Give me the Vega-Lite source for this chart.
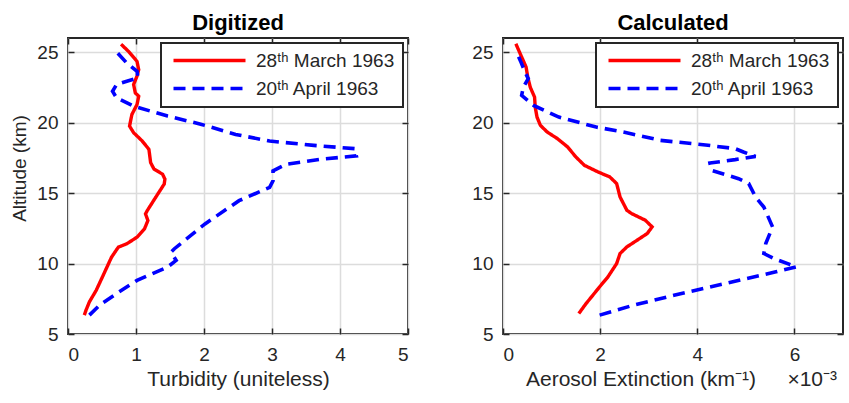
{
  "$schema": "https://vega.github.io/schema/vega-lite/v6.json",
  "background": "white",
  "padding": {"left": 9, "top": 10, "right": 0, "bottom": 0},
  "datasets": {
    "digitized": [
      {"date": "28ᵗʰ March 1963", "value": 0.78, "alt": 25.56},
      {"date": "28ᵗʰ March 1963", "value": 0.89, "alt": 25.05},
      {"date": "28ᵗʰ March 1963", "value": 1.015, "alt": 24.34},
      {"date": "28ᵗʰ March 1963", "value": 1.04, "alt": 23.75},
      {"date": "28ᵗʰ March 1963", "value": 1.015, "alt": 23.3},
      {"date": "28ᵗʰ March 1963", "value": 0.965, "alt": 22.7},
      {"date": "28ᵗʰ March 1963", "value": 0.99, "alt": 22.1},
      {"date": "28ᵗʰ March 1963", "value": 1.04, "alt": 21.87},
      {"date": "28ᵗʰ March 1963", "value": 1.015, "alt": 21.28},
      {"date": "28ᵗʰ March 1963", "value": 0.94, "alt": 20.58},
      {"date": "28ᵗʰ March 1963", "value": 0.905, "alt": 19.75},
      {"date": "28ᵗʰ March 1963", "value": 0.965, "alt": 19.28},
      {"date": "28ᵗʰ March 1963", "value": 1.09, "alt": 18.7},
      {"date": "28ᵗʰ March 1963", "value": 1.19, "alt": 18.1},
      {"date": "28ᵗʰ March 1963", "value": 1.215, "alt": 17.16},
      {"date": "28ᵗʰ March 1963", "value": 1.265, "alt": 16.7},
      {"date": "28ᵗʰ March 1963", "value": 1.39, "alt": 16.34},
      {"date": "28ᵗʰ March 1963", "value": 1.425, "alt": 15.99},
      {"date": "28ᵗʰ March 1963", "value": 1.415, "alt": 15.64},
      {"date": "28ᵗʰ March 1963", "value": 1.29, "alt": 14.7},
      {"date": "28ᵗʰ March 1963", "value": 1.165, "alt": 13.75},
      {"date": "28ᵗʰ March 1963", "value": 1.14, "alt": 13.52},
      {"date": "28ᵗʰ March 1963", "value": 1.175, "alt": 13.05},
      {"date": "28ᵗʰ March 1963", "value": 1.125, "alt": 12.46},
      {"date": "28ᵗʰ March 1963", "value": 1.015, "alt": 11.87},
      {"date": "28ᵗʰ March 1963", "value": 0.865, "alt": 11.4},
      {"date": "28ᵗʰ March 1963", "value": 0.74, "alt": 11.16},
      {"date": "28ᵗʰ March 1963", "value": 0.64, "alt": 10.45},
      {"date": "28ᵗʰ March 1963", "value": 0.54, "alt": 9.4},
      {"date": "28ᵗʰ March 1963", "value": 0.415, "alt": 8.1},
      {"date": "28ᵗʰ March 1963", "value": 0.315, "alt": 7.28},
      {"date": "28ᵗʰ March 1963", "value": 0.265, "alt": 6.69},
      {"date": "28ᵗʰ March 1963", "value": 0.24, "alt": 6.34},
      {"date": "20ᵗʰ April 1963", "value": 0.73, "alt": 24.93},
      {"date": "20ᵗʰ April 1963", "value": 0.865, "alt": 24.22},
      {"date": "20ᵗʰ April 1963", "value": 1.015, "alt": 23.64},
      {"date": "20ᵗʰ April 1963", "value": 1.03, "alt": 23.16},
      {"date": "20ᵗʰ April 1963", "value": 0.865, "alt": 22.93},
      {"date": "20ᵗʰ April 1963", "value": 0.715, "alt": 22.7},
      {"date": "20ᵗʰ April 1963", "value": 0.655, "alt": 22.22},
      {"date": "20ᵗʰ April 1963", "value": 0.715, "alt": 21.75},
      {"date": "20ᵗʰ April 1963", "value": 0.965, "alt": 21.16},
      {"date": "20ᵗʰ April 1963", "value": 1.465, "alt": 20.46},
      {"date": "20ᵗʰ April 1963", "value": 1.965, "alt": 19.87},
      {"date": "20ᵗʰ April 1963", "value": 2.465, "alt": 19.16},
      {"date": "20ᵗʰ April 1963", "value": 2.965, "alt": 18.69},
      {"date": "20ᵗʰ April 1963", "value": 3.615, "alt": 18.38},
      {"date": "20ᵗʰ April 1963", "value": 4.215, "alt": 18.15},
      {"date": "20ᵗʰ April 1963", "value": 4.24, "alt": 17.64},
      {"date": "20ᵗʰ April 1963", "value": 3.715, "alt": 17.4},
      {"date": "20ᵗʰ April 1963", "value": 3.215, "alt": 17.05},
      {"date": "20ᵗʰ April 1963", "value": 3.015, "alt": 16.58},
      {"date": "20ᵗʰ April 1963", "value": 3.015, "alt": 15.87},
      {"date": "20ᵗʰ April 1963", "value": 2.965, "alt": 15.4},
      {"date": "20ᵗʰ April 1963", "value": 2.515, "alt": 14.46},
      {"date": "20ᵗʰ April 1963", "value": 2.015, "alt": 12.81},
      {"date": "20ᵗʰ April 1963", "value": 1.565, "alt": 11.05},
      {"date": "20ᵗʰ April 1963", "value": 1.515, "alt": 10.81},
      {"date": "20ᵗʰ April 1963", "value": 1.59, "alt": 10.22},
      {"date": "20ᵗʰ April 1963", "value": 1.465, "alt": 9.75},
      {"date": "20ᵗʰ April 1963", "value": 1.015, "alt": 8.8},
      {"date": "20ᵗʰ April 1963", "value": 0.715, "alt": 7.87},
      {"date": "20ᵗʰ April 1963", "value": 0.465, "alt": 7.05},
      {"date": "20ᵗʰ April 1963", "value": 0.315, "alt": 6.34}
    ],
    "calculated": [
      {"date": "28ᵗʰ March 1963", "value": 0.265, "alt": 25.59},
      {"date": "28ᵗʰ March 1963", "value": 0.384, "alt": 24.65},
      {"date": "28ᵗʰ March 1963", "value": 0.475, "alt": 23.94},
      {"date": "28ᵗʰ March 1963", "value": 0.51, "alt": 23.23},
      {"date": "28ᵗʰ March 1963", "value": 0.56, "alt": 22.52},
      {"date": "28ᵗʰ March 1963", "value": 0.65, "alt": 21.81},
      {"date": "28ᵗʰ March 1963", "value": 0.663, "alt": 21.1},
      {"date": "28ᵗʰ March 1963", "value": 0.7, "alt": 20.39},
      {"date": "28ᵗʰ March 1963", "value": 0.77, "alt": 19.8},
      {"date": "28ᵗʰ March 1963", "value": 0.91, "alt": 19.33},
      {"date": "28ᵗʰ March 1963", "value": 1.12, "alt": 18.86},
      {"date": "28ᵗʰ March 1963", "value": 1.33, "alt": 18.27},
      {"date": "28ᵗʰ March 1963", "value": 1.5, "alt": 17.56},
      {"date": "28ᵗʰ March 1963", "value": 1.675, "alt": 16.97},
      {"date": "28ᵗʰ March 1963", "value": 1.955, "alt": 16.5},
      {"date": "28ᵗʰ March 1963", "value": 2.2, "alt": 16.14},
      {"date": "28ᵗʰ March 1963", "value": 2.34, "alt": 15.67},
      {"date": "28ᵗʰ March 1963", "value": 2.41, "alt": 14.72},
      {"date": "28ᵗʰ March 1963", "value": 2.55, "alt": 13.78},
      {"date": "28ᵗʰ March 1963", "value": 2.65, "alt": 13.54},
      {"date": "28ᵗʰ March 1963", "value": 2.93, "alt": 13.07},
      {"date": "28ᵗʰ March 1963", "value": 3.07, "alt": 12.6},
      {"date": "28ᵗʰ March 1963", "value": 2.97, "alt": 12.13},
      {"date": "28ᵗʰ March 1963", "value": 2.76, "alt": 11.65},
      {"date": "28ᵗʰ March 1963", "value": 2.55, "alt": 11.18},
      {"date": "28ᵗʰ March 1963", "value": 2.41, "alt": 10.71},
      {"date": "28ᵗʰ March 1963", "value": 2.34, "alt": 10.0},
      {"date": "28ᵗʰ March 1963", "value": 2.16, "alt": 9.05},
      {"date": "28ᵗʰ March 1963", "value": 1.99, "alt": 8.35},
      {"date": "28ᵗʰ March 1963", "value": 1.85, "alt": 7.75},
      {"date": "28ᵗʰ March 1963", "value": 1.71, "alt": 7.16},
      {"date": "28ᵗʰ March 1963", "value": 1.56, "alt": 6.45},
      {"date": "20ᵗʰ April 1963", "value": 0.28, "alt": 25.0},
      {"date": "20ᵗʰ April 1963", "value": 0.37, "alt": 24.29},
      {"date": "20ᵗʰ April 1963", "value": 0.455, "alt": 23.58},
      {"date": "20ᵗʰ April 1963", "value": 0.52, "alt": 23.11},
      {"date": "20ᵗʰ April 1963", "value": 0.42, "alt": 22.52},
      {"date": "20ᵗʰ April 1963", "value": 0.384, "alt": 21.93},
      {"date": "20ᵗʰ April 1963", "value": 0.63, "alt": 21.22},
      {"date": "20ᵗʰ April 1963", "value": 1.15, "alt": 20.39},
      {"date": "20ᵗʰ April 1963", "value": 1.92, "alt": 19.68},
      {"date": "20ᵗʰ April 1963", "value": 2.48, "alt": 19.33},
      {"date": "20ᵗʰ April 1963", "value": 3.24, "alt": 18.74},
      {"date": "20ᵗʰ April 1963", "value": 4.22, "alt": 18.39},
      {"date": "20ᵗʰ April 1963", "value": 4.78, "alt": 18.15},
      {"date": "20ᵗʰ April 1963", "value": 4.95, "alt": 17.91},
      {"date": "20ᵗʰ April 1963", "value": 5.2, "alt": 17.6},
      {"date": "20ᵗʰ April 1963", "value": 4.78, "alt": 17.37},
      {"date": "20ᵗʰ April 1963", "value": 4.26, "alt": 17.13},
      {"date": "20ᵗʰ April 1963", "value": 4.29, "alt": 16.61},
      {"date": "20ᵗʰ April 1963", "value": 4.85, "alt": 16.02},
      {"date": "20ᵗʰ April 1963", "value": 5.06, "alt": 15.67},
      {"date": "20ᵗʰ April 1963", "value": 5.2, "alt": 14.72},
      {"date": "20ᵗʰ April 1963", "value": 5.37, "alt": 14.01},
      {"date": "20ᵗʰ April 1963", "value": 5.55, "alt": 12.6},
      {"date": "20ᵗʰ April 1963", "value": 5.41, "alt": 11.42},
      {"date": "20ᵗʰ April 1963", "value": 5.37, "alt": 10.71},
      {"date": "20ᵗʰ April 1963", "value": 5.58, "alt": 10.35},
      {"date": "20ᵗʰ April 1963", "value": 6.04, "alt": 9.76},
      {"date": "20ᵗʰ April 1963", "value": 5.62, "alt": 9.41},
      {"date": "20ᵗʰ April 1963", "value": 4.57, "alt": 8.58},
      {"date": "20ᵗʰ April 1963", "value": 3.52, "alt": 7.75},
      {"date": "20ᵗʰ April 1963", "value": 2.69, "alt": 7.05},
      {"date": "20ᵗʰ April 1963", "value": 1.99, "alt": 6.34}
    ]
  },
  "spacing": 60,
  "hconcat": [
    {
      "width": 340,
      "height": 296,
      "title": "Digitized",
      "data": {"name": "digitized"},
      "layer": [
        {
          "transform": [{"filter": {"field": "date", "equal": "28ᵗʰ March 1963"}}],
          "mark": {"type": "line", "strokeWidth": 3.4},
          "encoding": {
            "x": {"field": "value", "type": "quantitative", "scale": {"domain": [0, 5], "nice": false},
                  "axis": {"values": [0, 1, 2, 3, 4, 5], "title": "Turbidity (uniteless)", "orient": "bottom"}},
            "y": {"field": "alt", "type": "quantitative", "scale": {"domain": [5, 26], "nice": false, "zero": false},
                  "axis": {"values": [5, 10, 15, 20, 25], "title": "Altitude (km)", "orient": "left", "titleY": 130, "titleX": -39}},
            "color": {"field": "date", "type": "nominal",
                      "scale": {"domain": ["28ᵗʰ March 1963", "20ᵗʰ April 1963"], "range": ["#ff0000", "#0000ff"]},
                      "legend": {"title": null, "orient": "top-right"}},
            "strokeDash": {"field": "date", "type": "nominal",
                      "scale": {"domain": ["28ᵗʰ March 1963", "20ᵗʰ April 1963"], "range": [[1, 0], [12, 7]]},
                      "legend": {"title": null, "orient": "top-right"}},
            "order": {"field": "alt", "type": "quantitative"}
          }
        },
        {
          "transform": [{"filter": {"field": "date", "equal": "20ᵗʰ April 1963"}}],
          "mark": {"type": "line", "strokeWidth": 3.6},
          "encoding": {
            "x": {"field": "value", "type": "quantitative", "scale": {"domain": [0, 5], "nice": false},
                  "axis": {"values": [0, 1, 2, 3, 4, 5], "title": null, "orient": "top", "labels": false, "grid": false}},
            "y": {"field": "alt", "type": "quantitative", "scale": {"domain": [5, 26], "nice": false, "zero": false},
                  "axis": {"values": [5, 10, 15, 20, 25], "title": null, "orient": "right", "labels": false, "grid": false}},
            "color": {"field": "date", "type": "nominal",
                      "scale": {"domain": ["28ᵗʰ March 1963", "20ᵗʰ April 1963"], "range": ["#ff0000", "#0000ff"]},
                      "legend": {"title": null, "orient": "top-right"}},
            "strokeDash": {"field": "date", "type": "nominal",
                      "scale": {"domain": ["28ᵗʰ March 1963", "20ᵗʰ April 1963"], "range": [[1, 0], [12, 7]]},
                      "legend": {"title": null, "orient": "top-right"}},
            "order": {"field": "alt", "type": "quantitative"}
          }
        }
      ],
      "resolve": {"axis": {"x": "independent", "y": "independent"}}
    },
    {
      "width": 340,
      "height": 296,
      "title": "Calculated",
      "data": {"name": "calculated"},
      "layer": [
        {
          "transform": [{"filter": {"field": "date", "equal": "28ᵗʰ March 1963"}}],
          "mark": {"type": "line", "strokeWidth": 3.4},
          "encoding": {
            "x": {"field": "value", "type": "quantitative", "scale": {"domain": [0, 7], "nice": false},
                  "axis": {"values": [0, 2, 4, 6], "title": "Aerosol Extinction (km⁻¹)\u2003\u2002×10⁻³", "orient": "bottom", "titleX": 178}},
            "y": {"field": "alt", "type": "quantitative", "scale": {"domain": [5, 26], "nice": false, "zero": false},
                  "axis": {"values": [5, 10, 15, 20, 25], "title": null, "orient": "left"}},
            "color": {"field": "date", "type": "nominal",
                      "scale": {"domain": ["28ᵗʰ March 1963", "20ᵗʰ April 1963"], "range": ["#ff0000", "#0000ff"]},
                      "legend": {"title": null, "orient": "top-right"}},
            "strokeDash": {"field": "date", "type": "nominal",
                      "scale": {"domain": ["28ᵗʰ March 1963", "20ᵗʰ April 1963"], "range": [[1, 0], [12, 7]]},
                      "legend": {"title": null, "orient": "top-right"}},
            "order": {"field": "alt", "type": "quantitative"}
          }
        },
        {
          "transform": [{"filter": {"field": "date", "equal": "20ᵗʰ April 1963"}}],
          "mark": {"type": "line", "strokeWidth": 3.6},
          "encoding": {
            "x": {"field": "value", "type": "quantitative", "scale": {"domain": [0, 7], "nice": false},
                  "axis": {"values": [0, 2, 4, 6], "title": null, "orient": "top", "labels": false, "grid": false}},
            "y": {"field": "alt", "type": "quantitative", "scale": {"domain": [5, 26], "nice": false, "zero": false},
                  "axis": {"values": [5, 10, 15, 20, 25], "title": null, "orient": "right", "labels": false, "grid": false}},
            "color": {"field": "date", "type": "nominal",
                      "scale": {"domain": ["28ᵗʰ March 1963", "20ᵗʰ April 1963"], "range": ["#ff0000", "#0000ff"]},
                      "legend": {"title": null, "orient": "top-right"}},
            "strokeDash": {"field": "date", "type": "nominal",
                      "scale": {"domain": ["28ᵗʰ March 1963", "20ᵗʰ April 1963"], "range": [[1, 0], [12, 7]]},
                      "legend": {"title": null, "orient": "top-right"}},
            "order": {"field": "alt", "type": "quantitative"}
          }
        }
      ],
      "resolve": {"axis": {"x": "independent", "y": "independent"}}
    }
  ],
  "resolve": {
    "scale": {"color": "independent", "strokeDash": "independent"},
    "legend": {"color": "independent", "strokeDash": "independent"}
  },
  "config": {
    "font": "Liberation Sans",
    "view": {"stroke": "#262626", "strokeWidth": 2},
    "title": {"fontSize": 22, "fontWeight": "bold", "color": "#000000", "offset": 2},
    "axis": {
      "labelFontSize": 19, "labelColor": "#262626", "titleColor": "#262626",
      "titleFontWeight": "normal", "labelFont": "Liberation Sans", "titleFont": "Liberation Sans",
      "gridColor": "#dcdcdc", "gridWidth": 1.5, "domain": false,
      "tickColor": "#262626", "tickSize": -6, "tickWidth": 1.5
    },
    "axisX": {"labelPadding": 17, "titlePadding": 4, "titleFontSize": 21},
    "axisY": {"labelPadding": 16, "titlePadding": 8, "titleFontSize": 19},
    "legend": {
      "symbolType": "M-1,0H13.4", "symbolSize": 100, "symbolStrokeWidth": 3.5,
      "labelFontSize": 19, "labelColor": "#262626", "labelFont": "Liberation Sans",
      "strokeColor": "#262626", "strokeWidth": 2, "fillColor": "white", "padding": 8,
      "offset": 5, "rowPadding": 8, "labelOffset": 68, "cornerRadius": 0
    }
  }
}
